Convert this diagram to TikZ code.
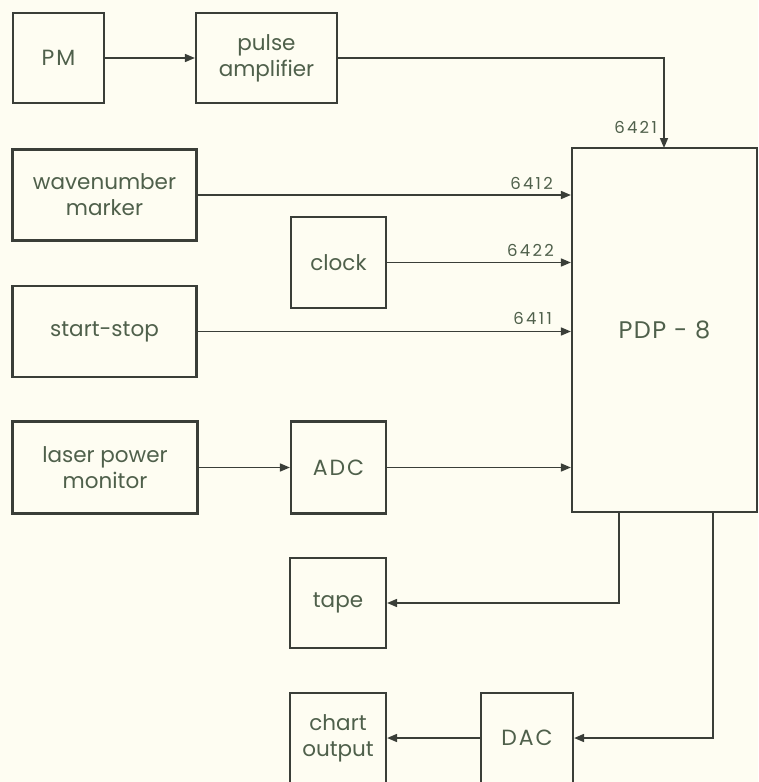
\documentclass[tikz,border=0pt]{standalone}
\usepackage{fontspec}
\setmainfont{Poppins}
\usetikzlibrary{arrows.meta}
\definecolor{bg}{HTML}{FEFDF2}
\definecolor{ln}{HTML}{3A3E38}
\definecolor{tx}{HTML}{4F604B}
\tikzset{
  blk/.style={draw=ln, line width=2.2pt, text=tx, align=center, inner sep=0pt, font=\fontsize{21.5}{26}\selectfont},
  capsp/.style={font=\fontsize{22}{26}\selectfont\addfontfeatures{LetterSpace=9}},
  conn/.style={draw=ln, line width=1.6pt, -{Triangle[length=10pt,width=8pt]}},
  lab/.style={text=tx, font=\fontsize{16.5}{18}\selectfont\addfontfeatures{LetterSpace=14}, inner sep=0pt}
}
\begin{document}
\begin{tikzpicture}[x=1pt,y=1pt]
\fill[bg] (0,0) rectangle (758,-782);
\useasboundingbox (0,0) rectangle (758,-782);
\node[blk, capsp, minimum width=91pt, minimum height=90pt] (pm) at (58.5,-58) {PM};
\node[blk, minimum width=141pt, minimum height=90pt] (pa) at (266.5,-58) {pulse\\amplifier};
\node[blk, minimum width=184pt, minimum height=91pt] (wm) at (104.5,-195) {wavenumber\\marker};
\node[blk, minimum width=95pt, minimum height=91pt] (ck) at (338.5,-262.5) {clock};
\node[blk, minimum width=184pt, minimum height=91pt] (ss) at (104.5,-331.5) {start-stop};
\node[blk, minimum width=185pt, minimum height=92pt] (lp) at (105,-467.5) {laser power\\monitor};
\node[blk, capsp, minimum width=95pt, minimum height=92pt] (adc) at (338.5,-467.5) {ADC};
\node[blk, minimum width=185pt, minimum height=364pt, font=\fontsize{24}{28}\selectfont\addfontfeatures{LetterSpace=6}] (pdp) at (664.5,-330) {PDP - 8};
\node[blk, minimum width=96pt, minimum height=90pt] (tp) at (338,-603) {tape};
\node[blk, capsp, minimum width=92pt, minimum height=90pt] (dac) at (527,-738) {DAC};
\node[blk, minimum width=96pt, minimum height=90pt] (co) at (338,-738) {chart\\output};
\coordinate (top) at (664,-148);
\coordinate (b1) at (619,-512);
\coordinate (b2) at (713,-512);
\draw[conn] (pm.east) -- (pa.west);
\draw[conn] (pa.east) -| (top);
\draw[conn] (wm.east) -- (wm.east -| pdp.west);
\draw[conn] (ck.east) -- (ck.east -| pdp.west);
\draw[conn] (ss.east) -- (ss.east -| pdp.west);
\draw[conn] (lp.east) -- (adc.west);
\draw[conn] (adc.east) -- (adc.east -| pdp.west);
\draw[conn] (b1) |- (tp.east);
\draw[conn] (b2) |- (dac.east);
\draw[conn] (dac.west) -- (co.east);
\node[lab, anchor=south east] (l1) at (657,-134) {6421};
\node[lab, anchor=south east] (l2) at (553,-190) {6412};
\node[lab, anchor=south east] (l3) at (554,-257) {6422};
\node[lab, anchor=south east] (l4) at (552,-325) {6411};
\end{tikzpicture}
\end{document}
